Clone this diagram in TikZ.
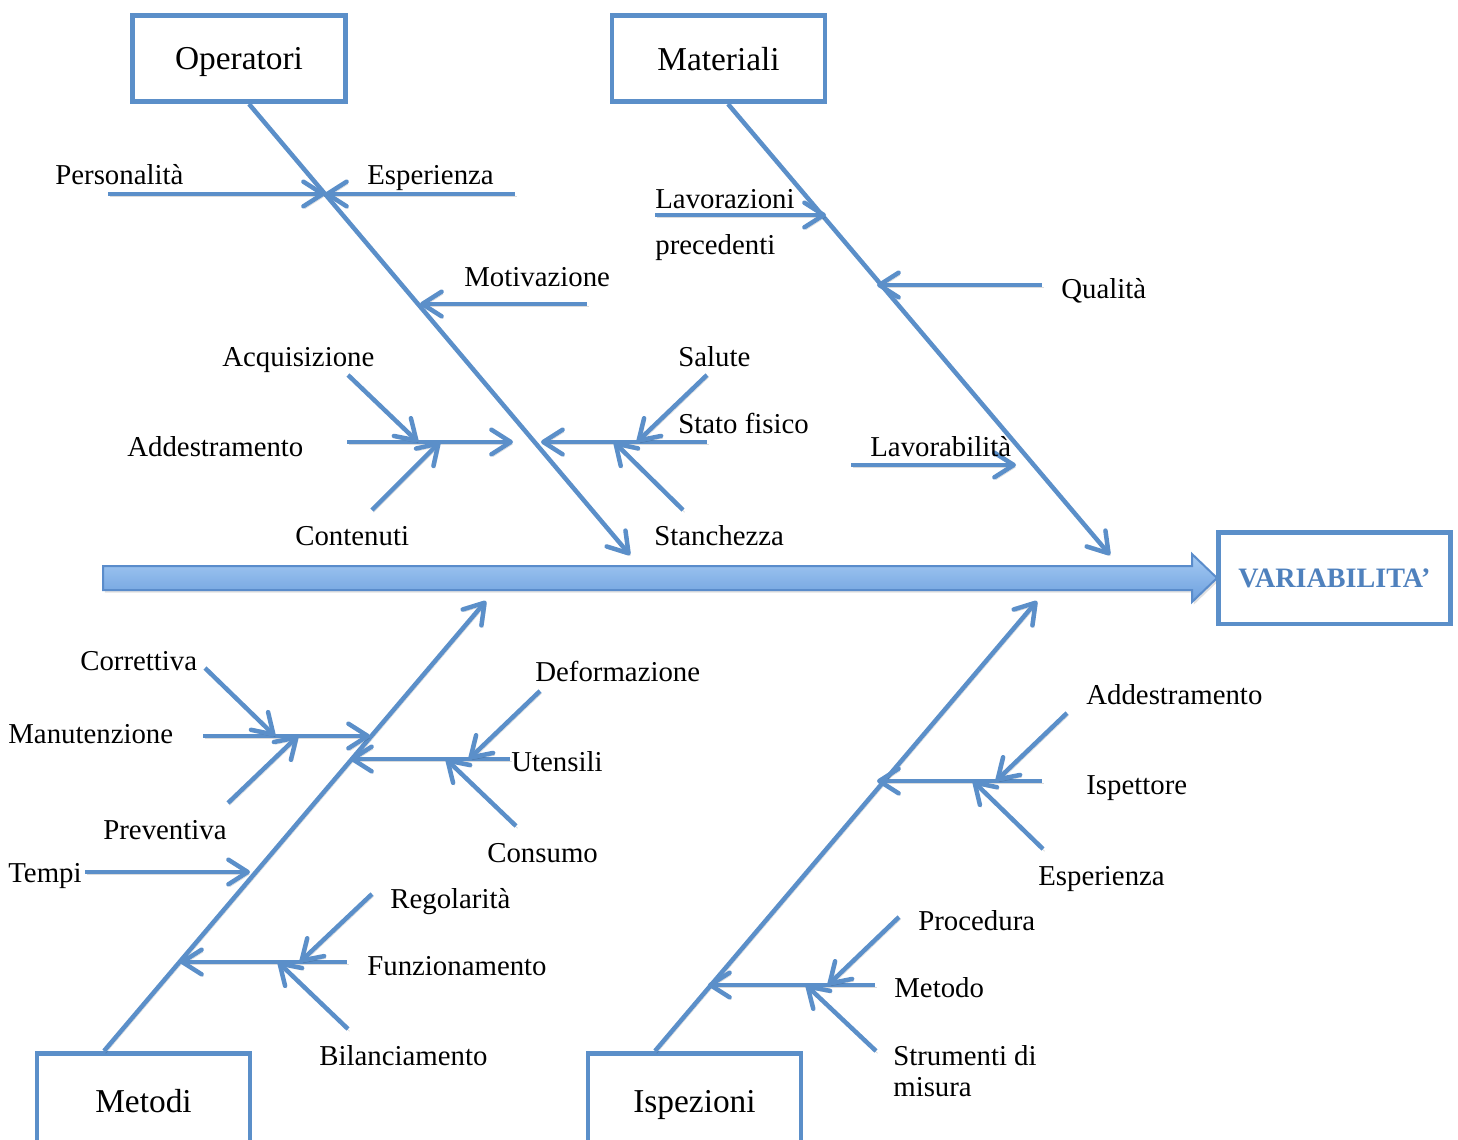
\documentclass[tikz,border=0pt]{standalone}
\usepackage{fontspec}
\setmainfont{Liberation Serif}
\usetikzlibrary{arrows.meta,calc}
\definecolor{fishblue}{HTML}{5B8FC9}
\definecolor{arrowtop}{HTML}{A6CBF3}
\definecolor{arrowbot}{HTML}{6C9FDE}
\definecolor{arrowedge}{HTML}{5A8CCB}
\definecolor{titleblue}{HTML}{4F81BD}
\begin{document}
\begin{tikzpicture}[x=0.02cm,y=-0.02cm,
  shadowed/.style={preaction={draw=black,opacity=0.14,transform canvas={shift={(0.9pt,-1.3pt)}}}},
  bone/.style={draw=fishblue, line width=0.09cm, shadowed,
    -{Straight Barb[length=11pt,width=14pt,round]}},
  cause/.style={draw=fishblue, line width=0.09cm, minimum width=4.27cm,
    minimum height=1.73cm, inner sep=0pt, fill=white, text depth=0pt,
    font=\fontsize{19}{22}\selectfont},
  lbl/.style={anchor=base west, inner sep=0pt, font=\fontsize{16.4}{20}\selectfont},
]
\useasboundingbox (0,0) rectangle (1458,1140);
\clip (0,0) rectangle (1458,1140);

% ---- main arrow and effect box ----
\path[draw=arrowedge, line width=0.04cm, top color=arrowtop, bottom color=arrowbot,
  preaction={fill=black,opacity=0.12,transform canvas={shift={(1pt,-1.5pt)}}}]
  (103,566) -- (1192,566) -- (1192,554) -- (1217,578) -- (1192,602)
  -- (1192,590) -- (103,590) -- cycle;
\node[cause, minimum width=4.65cm, minimum height=1.83cm,
  font=\fontsize{16}{19}\selectfont\bfseries, text=titleblue]
  (effect) at (1334.5,578) {VARIABILITA’};

% ---- category boxes ----
\node[cause] (ope) at (239,58.5) {Operatori};
\node[cause] (mat) at (718.5,58.5) {Materiali};
\node[cause, anchor=north, minimum height=2.2cm] (met) at (143.5,1051) {\raisebox{8pt}{Metodi}};
\node[cause, anchor=north, minimum height=2.2cm] (isp) at (694.5,1051) {\raisebox{8pt}{Ispezioni}};

% ---- Operatori ----
\coordinate (opeE) at (630,555);
\draw[bone] ([xshift=0.2cm]ope.south) -- (opeE);
\coordinate (o1) at (325,194);
\coordinate (pers) at (108,194);
\coordinate (espO) at (515,194);
\draw[bone] (pers) -- (o1);
\draw[bone] (espO) -- (o1);
\coordinate (mot) at (587,304);
\coordinate (motE) at (420,304);
\draw[bone] (mot) -- (motE);
\coordinate (add) at (347,442);
\coordinate (addE) at (513,442);
\draw[bone] (add) -- (addE);
\coordinate (acq) at (348,375);
\coordinate (acqE) at (418,442);
\draw[bone] (acq) -- (acqE);
\coordinate (con) at (372,510);
\coordinate (conE) at (440,442);
\draw[bone] (con) -- (conE);
\coordinate (sf) at (707,442);
\coordinate (sfE) at (541,442);
\draw[bone] (sf) -- (sfE);
\coordinate (sal) at (707,375);
\coordinate (salE) at (637,442);
\draw[bone] (sal) -- (salE);
\coordinate (sta) at (683,510);
\coordinate (staE) at (614,442);
\draw[bone] (sta) -- (staE);

\node[lbl] (tPers) at (55,184) {Personalità};
\node[lbl] (tEspO) at (367,184) {Esperienza};
\node[lbl] (tMot) at (464,286) {Motivazione};
\node[lbl] (tAcq) at (222,366) {Acquisizione};
\node[lbl] (tAdd) at (127,456) {Addestramento};
\node[lbl] (tCon) at (295,545) {Contenuti};
\node[lbl] (tSal) at (678,366) {Salute};
\node[lbl] (tSf) at (678,433) {Stato fisico};
\node[lbl] (tSta) at (654,545) {Stanchezza};

% ---- Materiali ----
\coordinate (matE) at (1110,555);
\draw[bone] ([xshift=0.19cm]mat.south) -- (matE);
\coordinate (lav) at (655,215);
\coordinate (lavE) at (826,215);
\draw[bone] (lav) -- (lavE);
\coordinate (qua) at (1042,285);
\coordinate (quaE) at (877,285);
\draw[bone] (qua) -- (quaE);
\coordinate (lbi) at (851,465);
\coordinate (lbiE) at (1016,465);
\draw[bone] (lbi) -- (lbiE);

\node[lbl] (tLav) at (655,208) {Lavorazioni};
\node[lbl] (tPrec) at (655,254) {precedenti};
\node[lbl] (tQua) at (1061,298) {Qualità};
\node[lbl] (tLbi) at (870,456) {Lavorabilità};

% ---- Metodi ----
\coordinate (metE) at (486,601);
\draw[bone] ([xshift=-0.79cm]met.north) -- (metE);
\coordinate (man) at (203,736);
\coordinate (manE) at (370,736);
\draw[bone] (man) -- (manE);
\coordinate (cor) at (205,668);
\coordinate (corE) at (275,736);
\draw[bone] (cor) -- (corE);
\coordinate (pre) at (228,803);
\coordinate (preE) at (298,736);
\draw[bone] (pre) -- (preE);
\coordinate (ute) at (510,759);
\coordinate (uteE) at (350,759);
\draw[bone] (ute) -- (uteE);
\coordinate (def) at (540,691);
\coordinate (defE) at (469,759);
\draw[bone] (def) -- (defE);
\coordinate (cons) at (516,826);
\coordinate (consE) at (446,759);
\draw[bone] (cons) -- (consE);
\coordinate (tem) at (85,872);
\coordinate (temE) at (250,872);
\draw[bone] (tem) -- (temE);
\coordinate (fun) at (347,962);
\coordinate (funE) at (180,962);
\draw[bone] (fun) -- (funE);
\coordinate (reg) at (372,894);
\coordinate (regE) at (300,962);
\draw[bone] (reg) -- (regE);
\coordinate (bil) at (348,1029);
\coordinate (bilE) at (278,962);
\draw[bone] (bil) -- (bilE);

\node[lbl] (tCor) at (80,670) {Correttiva};
\node[lbl] (tMan) at (8,743) {Manutenzione};
\node[lbl] (tPre) at (103,839) {Preventiva};
\node[lbl] (tTem) at (8,882) {Tempi};
\node[lbl] (tDef) at (535,681) {Deformazione};
\node[lbl] (tUte) at (511,771) {Utensili};
\node[lbl] (tCons) at (487,862) {Consumo};
\node[lbl] (tReg) at (390,908) {Regolarità};
\node[lbl] (tFun) at (367,975) {Funzionamento};
\node[lbl] (tBil) at (319,1065) {Bilanciamento};

% ---- Ispezioni ----
\coordinate (ispE) at (1037,601);
\draw[bone] ([xshift=-0.79cm]isp.north) -- (ispE);
\coordinate (ispt) at (1042,781);
\coordinate (isptE) at (877,781);
\draw[bone] (ispt) -- (isptE);
\coordinate (addI) at (1067,713);
\coordinate (addIE) at (996,781);
\draw[bone] (addI) -- (addIE);
\coordinate (espI) at (1043,849);
\coordinate (espIE) at (973,781);
\draw[bone] (espI) -- (espIE);
\coordinate (mtd) at (875,985);
\coordinate (mtdE) at (708,985);
\draw[bone] (mtd) -- (mtdE);
\coordinate (proc) at (899,917);
\coordinate (procE) at (828,985);
\draw[bone] (proc) -- (procE);
\coordinate (str) at (876,1051);
\coordinate (strE) at (806,985);
\draw[bone] (str) -- (strE);

\node[lbl] (tAddI) at (1086,704) {Addestramento};
\node[lbl] (tIspt) at (1086,794) {Ispettore};
\node[lbl] (tEspI) at (1038,885) {Esperienza};
\node[lbl] (tProc) at (918,930) {Procedura};
\node[lbl] (tMtd) at (894,997) {Metodo};
\node[lbl] (tStr) at (893,1065) {Strumenti di};
\node[lbl] (tMis) at (893,1096) {misura};
\end{tikzpicture}
\end{document}
